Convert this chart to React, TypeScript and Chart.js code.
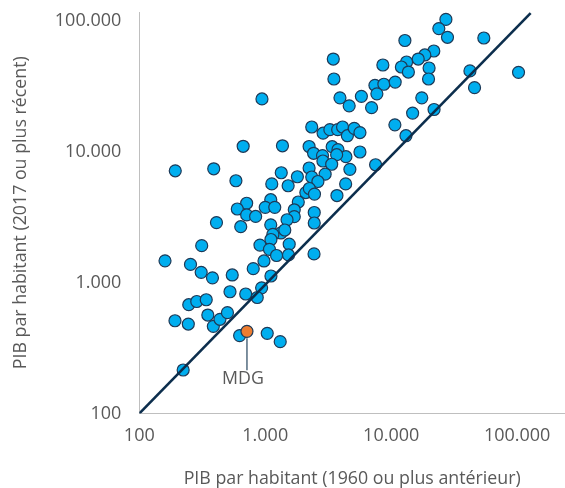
import React, { useEffect, useRef } from 'react';
import { Chart, registerables } from 'chart.js';

Chart.register(...registerables);

// GDP per capita, earliest year (1960 or earlier) — x
const gdpEarly = [
  27200, 23900, 28000, 54400, 12850, 3470, 21800, 18500, 16400, 13250,
  12050, 13700, 20000, 8590, 42200, 102600, 3510, 19800, 7430, 8750,
  10760, 7700, 45900, 942, 3920, 5800, 4640, 6990, 17500, 14800,
  21900, 10700, 13100, 2340, 2880, 3260, 3760, 4110, 4490, 5090,
  5650, 668, 1370, 2230, 3400, 3780, 2420, 2850, 4370, 5650,
  3690, 2870, 3370, 2230, 4700, 7520, 2990, 2340, 1800, 2620,
  4350, 1340, 1127, 1520, 193, 390, 585, 2100, 2240, 2460,
  3710, 1106, 1830, 712, 600, 712, 839, 1000, 1190, 1700,
  1700, 1490, 2450, 2450, 410, 639, 1106, 1333, 1430, 1150,
  1110, 313, 908, 1080, 1550, 1230, 1530, 2440, 160, 255,
  977, 310, 381, 547, 803, 1110, 525, 700, 936, 864,
  247, 286, 340, 192, 245, 350, 387, 437, 501, 626,
  1037, 1315, 223,
];

// GDP per capita, 2017 or latest — y
const gdpRecent = [
  103000, 87700, 75200, 74300, 71100, 51300, 59100, 55100, 51300, 48700,
  44600, 40800, 43800, 46200, 41600, 40600, 36100, 36100, 32300, 32900,
  34200, 27800, 31000, 25400, 25900, 26600, 22500, 21800, 25900, 19800,
  21100, 16100, 13300, 15500, 13900, 14800, 14800, 15500, 13300, 15140,
  14060, 11040, 11140, 11000, 10960, 10400, 9760, 9380, 9190, 9980,
  9520, 8520, 8050, 7530, 7360, 7980, 6760, 6430, 6460, 5940,
  5690, 6930, 5690, 5510, 7170, 7430, 6020, 4890, 5250, 4760,
  4640, 4310, 4140, 4050, 3660, 3300, 3210, 3770, 3770, 3610,
  3200, 3030, 3440, 2860, 2880, 2680, 2770, 2400, 2530, 2340,
  2140, 1920, 1940, 1800, 1970, 1615, 1630, 1660, 1470, 1380,
  1466, 1200, 1090, 1146, 1280, 1125, 853, 820, 914, 771,
  679, 718, 741, 512, 483, 566, 464, 525, 590, 394,
  410, 354, 215,
];

// Madagascar (highlighted)
const mdgEarly = [716];
const mdgRecent = [425];
const mdgLabel = 'MDG';

// 45° reference line
const refLineX = [100, 128000];
const refLineY = [100, 115000];

const tickValues = [100, 1000, 10000, 100000];
const tickLabels = ['100', '1.000', '10.000', '100.000'];

const xTitle = 'PIB par habitant (1960 ou plus antérieur)';
const yTitle = 'PIB par habitant (2017 ou plus récent)';

const xMin = 100;
const xMax = 240000;
const yMin = 100;
const yMax = 117400;

const FONT = '"Open Sans", "Noto Sans", sans-serif';
const TEXT = '#595959';

const mdgLabelPlugin = {
  id: 'mdgLabel',
  afterDatasetsDraw(chart: any) {
    const meta = chart.getDatasetMeta(1);
    const pt = meta && meta.data && meta.data[0];
    if (!pt) return;
    const { x, y } = pt;
    const ctx = chart.ctx;
    ctx.save();
    ctx.strokeStyle = '#27465f';
    ctx.lineWidth = 1.2;
    ctx.beginPath();
    ctx.moveTo(x, y + 7);
    ctx.lineTo(x, y + 39);
    ctx.stroke();
    ctx.fillStyle = TEXT;
    ctx.font = `17.8px ${FONT}`;
    ctx.textAlign = 'center';
    ctx.textBaseline = 'middle';
    ctx.fillText(mdgLabel, x - 4, y + 48);
    ctx.restore();
  },
};

export default function App() {
  const ref = useRef<HTMLCanvasElement | null>(null);

  useEffect(() => {
    if (!ref.current) return;
    const chart = new Chart(ref.current, {
      type: 'scatter',
      data: {
        datasets: [
          {
            data: refLineX.map((v, i) => ({ x: v, y: refLineY[i] })),
            showLine: true,
            borderColor: '#0c2e4d',
            borderWidth: 2.6,
            pointRadius: 0,
            fill: false,
            order: 0,
          },
          {
            data: mdgEarly.map((v, i) => ({ x: v, y: mdgRecent[i] })),
            backgroundColor: '#ED7D31',
            borderColor: '#1d3a58',
            borderWidth: 1.2,
            pointRadius: 6,
            order: 1,
          },
          {
            data: gdpEarly.map((v, i) => ({ x: v, y: gdpRecent[i] })),
            backgroundColor: '#00AEEF',
            borderColor: '#1d3a58',
            borderWidth: 1.2,
            pointRadius: 6,
            order: 2,
          },
        ] as any,
      },
      options: {
        responsive: false,
        animation: false,
        layout: { autoPadding: false, padding: { top: 12, left: 0, right: 0, bottom: 0 } },
        plugins: { legend: { display: false }, tooltip: { enabled: false } },
        scales: {
          x: {
            type: 'logarithmic',
            min: xMin,
            max: xMax,
            bounds: 'data',
            afterBuildTicks: (s: any) => {
              s.ticks = tickValues.map((v) => ({ value: v }));
            },
            afterFit: (s: any) => {
              s.height = 74.5;
              s.paddingLeft = 0;
              s.paddingRight = 0;
              s.paddingTop = 0;
              s.paddingBottom = 0;
            },
            grid: { display: false, drawTicks: false },
            border: { display: true, color: '#bfbfbf', width: 1 },
            ticks: {
              autoSkip: false,
              maxRotation: 0,
              padding: 12,
              color: TEXT,
              font: { family: FONT, size: 18 },
              callback: (v: any) => tickLabels[tickValues.indexOf(Number(v))] ?? '',
            },
            title: {
              display: true,
              text: xTitle,
              color: TEXT,
              font: { family: FONT, size: 17.8 },
              padding: { top: 0, bottom: -2 },
            },
          },
          y: {
            type: 'logarithmic',
            min: yMin,
            max: yMax,
            bounds: 'data',
            afterBuildTicks: (s: any) => {
              s.ticks = tickValues.map((v) => ({ value: v }));
            },
            afterFit: (s: any) => {
              s.width = 139.3;
              s.paddingLeft = 0;
              s.paddingRight = 0;
              s.paddingTop = 0;
              s.paddingBottom = 0;
            },
            grid: { display: false, drawTicks: false },
            border: { display: true, color: '#bfbfbf', width: 1 },
            ticks: {
              autoSkip: false,
              padding: 18,
              color: TEXT,
              font: { family: FONT, size: 18 },
              callback: (v: any) => tickLabels[tickValues.indexOf(Number(v))] ?? '',
            },
            title: {
              display: true,
              text: yTitle,
              color: TEXT,
              font: { family: FONT, size: 17.8 },
              padding: { top: 10, bottom: 0 },
            },
          },
        },
      } as any,
      plugins: [mdgLabelPlugin],
    });
    return () => chart.destroy();
  }, []);

  return (
    <div style={{ position: 'absolute', left: 0, top: 0, width: 565, height: 488, background: '#fff' }}>
      <canvas ref={ref} width={565} height={488} style={{ display: 'block' }} />
    </div>
  );
}
